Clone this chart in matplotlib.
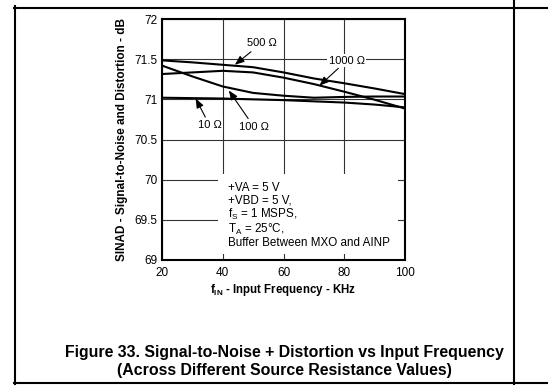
import matplotlib
matplotlib.use("Agg")
import matplotlib.pyplot as plt
from matplotlib.patches import Rectangle
from matplotlib.lines import Line2D

plt.rcParams['font.family'] = ['Liberation Sans', 'DejaVu Sans']
plt.rcParams['mathtext.fontset'] = 'custom'
plt.rcParams['mathtext.rm'] = 'Liberation Sans'
plt.rcParams['mathtext.it'] = 'Liberation Sans:italic'
plt.rcParams['mathtext.bf'] = 'Liberation Sans:bold'

# frequency (kHz) and SINAD (dB)
freq = [20, 30, 40, 50, 60, 70, 80, 90, 100]
sinad_10 = [71.02, 71.015, 71.01, 71.0, 70.99, 70.975, 70.96, 70.935, 70.90]
sinad_100 = [71.42, 71.285, 71.16, 71.08, 71.045, 71.02, 71.03, 71.035, 71.035]
sinad_500 = [71.485, 71.46, 71.43, 71.40, 71.335, 71.26, 71.20, 71.135, 71.065]
sinad_1000 = [71.315, 71.335, 71.355, 71.335, 71.27, 71.19, 71.095, 70.995, 70.885]

xticks = [20, 40, 60, 80, 100]
yticks = [69, 69.5, 70, 70.5, 71, 71.5, 72]
ytick_labels = ['69', '69.5', '70', '70.5', '71', '71.5', '72']

W, H = 548, 392
fig = plt.figure(figsize=(W / 100, H / 100), dpi=100)
ax = fig.add_axes([162 / W, 1 - 260 / H, 243 / W, 241 / H])

# page frame
def hline(y, x0, x1):
    fig.add_artist(Line2D([x0 / W, x1 / W], [1 - y / H, 1 - y / H], color='black', lw=1.5))

def vline(x, y0, y1):
    fig.add_artist(Line2D([x / W, x / W], [1 - y0 / H, 1 - y1 / H], color='black', lw=1.5))

hline(8, 14, W)
hline(383, 14, W)
vline(15, 6, 384)
vline(513.5, 0, 384)

ax.set_xlim(20, 100)
ax.set_ylim(69, 72)
ax.set_xticks(xticks)
ax.set_yticks(yticks)
ax.set_yticklabels(ytick_labels)
ax.tick_params(length=0, labelsize=8.5, pad=3)
ax.tick_params(axis='x', pad=5)
ax.grid(True, color='#333333', lw=0.8, zorder=0)
ax.set_axisbelow(True)
for s in ax.spines.values():
    s.set_linewidth(1.5)
    s.set_zorder(5)

for ys in [sinad_10, sinad_100, sinad_500, sinad_1000]:
    ax.plot(freq, ys, color='black', lw=1.5, zorder=3)

# white box for conditions text
ax.add_patch(Rectangle((38.4, 69.08), 59.3, 0.99, facecolor='white', edgecolor='none', zorder=2))
ax.text(41.8, 69.97,
        '+VA = 5 V\n+VBD = 5 V,\nf$_\\mathrm{S}$ = 1 MSPS,\nT$_\\mathrm{A}$ = 25°C,\nBuffer Between MXO and AINP',
        fontsize=8.4, va='top', ha='left', linespacing=1.02, zorder=4)

arrow = dict(arrowstyle='-|>,head_length=0.7,head_width=0.28', color='black', lw=0.8,
             shrinkA=1, shrinkB=0)
ax.annotate('500 Ω', xy=(44, 71.43), xytext=(52.8, 71.70), fontsize=8,
            ha='center', va='center', arrowprops=arrow, zorder=4)
ax.annotate('1000 Ω', xy=(71.8, 71.17), xytext=(80.8, 71.48), fontsize=8,
            ha='center', va='center', arrowprops=arrow, zorder=4,
            bbox=dict(boxstyle='square,pad=0.15', fc='white', ec='none'))
ax.annotate('10 Ω', xy=(31.1, 71.01), xytext=(35.6, 70.68), fontsize=8,
            ha='center', va='center', arrowprops=arrow, zorder=4,
            bbox=dict(boxstyle='square,pad=0.15', fc='white', ec='none'))
ax.annotate('100 Ω', xy=(42, 71.11), xytext=(50.4, 70.65), fontsize=8,
            ha='center', va='center', arrowprops=arrow, zorder=4)

ax.set_xlabel('f$_\\mathbf{IN}$ - Input Frequency - KHz', fontsize=8.3, fontweight='bold', labelpad=2)
ax.set_ylabel('SINAD - Signal-to-Noise and Distortion - dB', fontsize=8.5, fontweight='bold', labelpad=5)

fig.text(284 / W, 1 - 361 / H,
         'Figure 33. Signal-to-Noise + Distortion vs Input Frequency\n(Across Different Source Resistance Values)',
         fontsize=11.4, fontweight='bold', ha='center', va='center', linespacing=1.25)

fig.savefig('out.png', dpi=100)
